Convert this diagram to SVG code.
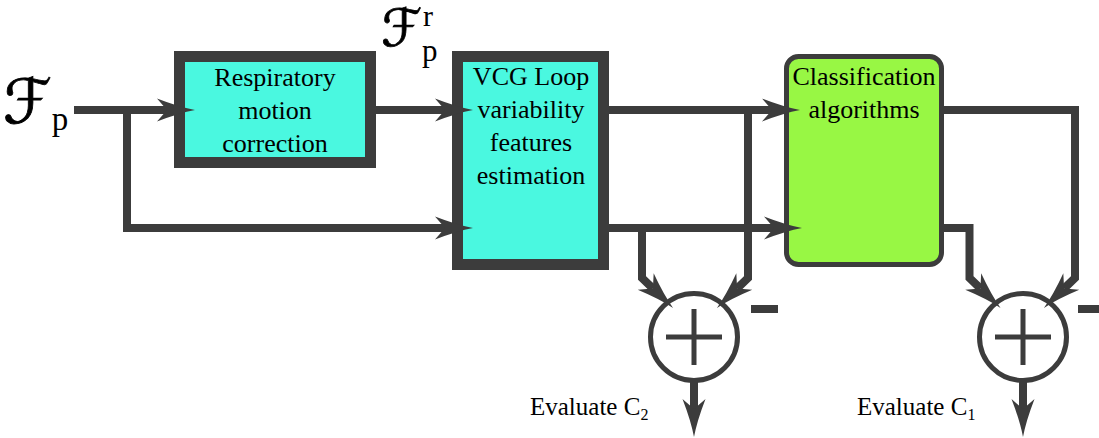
<svg xmlns="http://www.w3.org/2000/svg" width="1099" height="438" viewBox="0 0 1099 438">
<style>
.box{stroke:#3c3c3c;}
.cyan{fill:#4af8e0;stroke-width:11;}
.green{fill:#98f744;stroke-width:5;}
.lbl{font-family:"Liberation Serif","Times New Roman",serif;font-size:26px;fill:#000;text-anchor:middle;}
.ev{font-family:"Liberation Serif","Times New Roman",serif;font-size:25px;fill:#000;}
.sub{font-size:16px;}
.cal{font-family:"DejaVu Sans",sans-serif;fill:#000;stroke:#000;stroke-width:0.8;}
.sym{font-family:"Liberation Serif","Times New Roman",serif;fill:#000;stroke:none;}
.wire{fill:none;stroke:#3c3c3c;stroke-width:8;stroke-linejoin:miter;marker-end:url(#ah);}
.sum{fill:#fff;stroke:#3c3c3c;stroke-width:5;}
.plus{stroke:#3c3c3c;stroke-width:5;fill:none;}
.minus{fill:#3c3c3c;}
</style>
<defs>
<marker id="ah" markerUnits="userSpaceOnUse" orient="auto" refX="0" refY="0" markerWidth="1" markerHeight="1" overflow="visible">
<path d="M28,0 Q12,-3 -10,-11.5 L0,0 L-10,11.5 Q12,3 28,0 Z" fill="#3c3c3c"/>
</marker>
</defs>
<rect width="1099" height="438" fill="#fff"/>

<g id="label-Fp">
<text x="3" y="123" font-family="DejaVu Sans, sans-serif"><tspan class="cal" font-size="62">ℱ</tspan><tspan class="sym" dx="0" y="130" font-size="33">p</tspan></text>
</g>
<g id="label-Frp">
<text x="381" y="46" font-family="DejaVu Sans, sans-serif"><tspan class="cal" font-size="52">ℱ</tspan><tspan class="sym" x="423" y="26" font-size="30">r</tspan><tspan class="sym" x="422" y="61" font-size="31">p</tspan></text>
</g>

<g id="node-resp">
<rect class="box cyan" x="179.5" y="56.5" width="191" height="106"/>
<text class="lbl" x="275" y="86">Respiratory</text>
<text class="lbl" x="275" y="119">motion</text>
<text class="lbl" x="275" y="152">correction</text>
</g>
<g id="node-vcg">
<rect class="box cyan" x="457.5" y="56.5" width="146" height="208"/>
<text class="lbl" x="531" y="85">VCG Loop</text>
<text class="lbl" x="531" y="118">variability</text>
<text class="lbl" x="531" y="151">features</text>
<text class="lbl" x="531" y="184">estimation</text>
</g>
<g id="node-cls">
<rect class="box green" x="786.5" y="56.5" width="155" height="208" rx="12"/>
<text class="lbl" x="864" y="85">Classification</text>
<text class="lbl" x="864" y="118">algorithms</text>
</g>
<g id="node-sum2">
<circle class="sum" cx="694" cy="337" r="43.5"/>
<path class="plus" d="M666,337 H722 M694,309 V365"/>
<rect class="minus" x="751" y="305" width="27" height="8"/>
<text class="ev" x="530" y="415">Evaluate C<tspan class="sub" dy="5">2</tspan></text>
</g>
<g id="node-sum1">
<circle class="sum" cx="1023" cy="337" r="43.5"/>
<path class="plus" d="M995,337 H1051 M1023,309 V365"/>
<rect class="minus" x="1078" y="305" width="22" height="8"/>
<text class="ev" x="857" y="415">Evaluate C<tspan class="sub" dy="5">1</tspan></text>
</g>

<g id="connectors">
<path class="wire" d="M74,110 H167"/>
<path class="wire" d="M127,110 V228 H445"/>
<path class="wire" d="M376,110 H445"/>
<path class="wire" d="M609,110 H772"/>
<path class="wire" d="M609,228 H774"/>
<path class="wire" d="M748,110 V278 L737.1,288.5"/>
<path class="wire" d="M642,228 V278 L652.9,288.5"/>
<path class="wire" d="M941,110 H1075 V278 L1064.1,288.5"/>
<path class="wire" d="M941,228 H969.5 V278 L980.4,288.5"/>
<path class="wire" d="M694,380 V409"/>
<path class="wire" d="M1023,380 V409"/>
</g>
</svg>
